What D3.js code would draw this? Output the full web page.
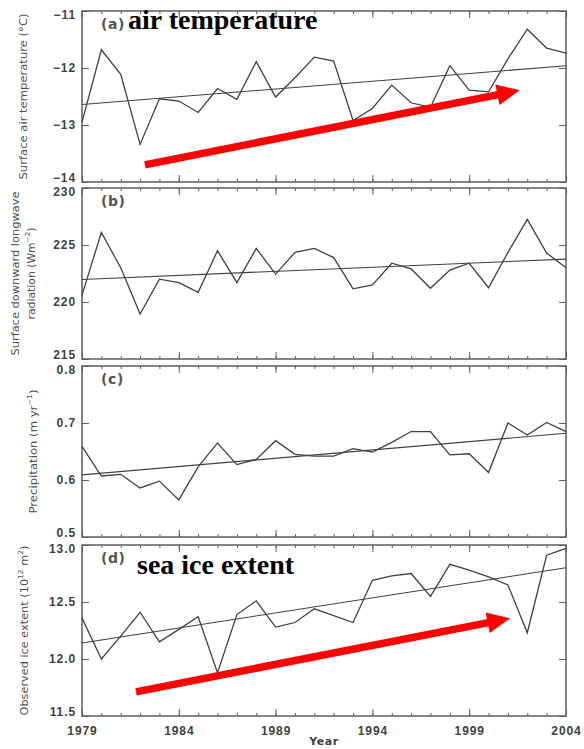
<!DOCTYPE html>
<html>
<head>
<meta charset="utf-8">
<script src="https://cdn.jsdelivr.net/npm/d3@7/dist/d3.min.js"></script>
<style>
  body { margin: 0; background: #fff; }
  svg { display: block; }
</style>
</head>
<body>
<script>
// Annual series, 1979–2004
const years = [1979, 1980, 1981, 1982, 1983, 1984, 1985, 1986, 1987, 1988, 1989, 1990, 1991,
               1992, 1993, 1994, 1995, 1996, 1997, 1998, 1999, 2000, 2001, 2002, 2003, 2004];

const airTemp = [-12.95, -11.68, -12.11, -13.34, -12.54, -12.58, -12.78, -12.36, -12.55, -11.89,
                 -12.51, -12.17, -11.81, -11.88, -12.92, -12.71, -12.30, -12.61, -12.69, -11.96,
                 -12.39, -12.42, -11.84, -11.32, -11.65, -11.74];
const longwave = [220.6, 226.1, 223.0, 218.95, 222.0, 221.7, 220.85, 224.5, 221.7, 224.7,
                  222.45, 224.35, 224.7, 223.9, 221.15, 221.5, 223.4, 222.9, 221.2, 222.8,
                  223.4, 221.25, 224.35, 227.25, 224.3, 223.0];
const precip = [0.659, 0.607, 0.610, 0.586, 0.598, 0.565, 0.623, 0.665, 0.627, 0.636,
                0.669, 0.645, 0.642, 0.642, 0.655, 0.649, 0.666, 0.685, 0.685, 0.644,
                0.646, 0.613, 0.700, 0.679, 0.701, 0.685];
const iceExtent = [12.36, 12.00, 12.20, 12.41, 12.15, 12.26, 12.37, 11.88, 12.39, 12.51,
                   12.28, 12.32, 12.44, 12.38, 12.32, 12.69, 12.73, 12.75, 12.55, 12.83,
                   12.78, 12.72, 12.65, 12.23, 12.91, 12.97];

// Linear trend values at 1979 and 2004
const airTempTrend = [-12.64, -11.96];
const longwaveTrend = [221.98, 223.76];
const precipTrend = [0.609, 0.682];
const iceExtentTrend = [12.14, 12.80];

// Axis ticks
const airTempTicks = [-14, -13, -12, -11];
const longwaveTicks = [215, 220, 225, 230];
const precipTicks = [0.5, 0.6, 0.7, 0.8];
const iceExtentTicks = [11.5, 12.0, 12.5, 13.0];
const yearTickLabels = [1979, 1984, 1989, 1994, 1999, 2004];

// Highlight arrows, [year, value] from tail to tip
const airTempArrow = [[1982.25, -13.70], [2001.62, -12.39]];
const iceExtentArrow = [[1981.79, 11.712], [2001.12, 12.357]];

const W = 584, H = 749;
const left = 82, right = 566, panelH = 171;
const panelTops = [11, 188, 366, 545];

const svg = d3.select("body").append("svg").attr("width", W).attr("height", H)
  .style("font-family", "'DejaVu Sans', sans-serif");

const x = d3.scaleLinear().domain([1979, 2004]).range([left, right]);

const panels = [
  { key: "a", label: "(a)", values: airTemp, trend: airTempTrend, ticks: airTempTicks,
    fmt: d => d.toString().replace("-", "\u2212"),
    title: [{ parts: [["Surface air temperature (\u00B0C)"]], x: 24, len: 166 }],
    note: "air temperature", noteX: 128, noteY: 29, arrow: airTempArrow },
  { key: "b", label: "(b)", values: longwave, trend: longwaveTrend, ticks: longwaveTicks,
    fmt: d3.format("d"),
    title: [{ parts: [["Surface downward longwave"]], x: 16, len: 164 },
            { parts: [["radiation (Wm"], ["\u22122", "sup"], [")"]], x: 32, len: 92 }] },
  { key: "c", label: "(c)", values: precip, trend: precipTrend, ticks: precipTicks,
    fmt: d3.format(".1f"),
    title: [{ parts: [["Precipitation (m yr"], ["\u22121", "sup"], [")"]], x: 34, len: 124 }] },
  { key: "d", label: "(d)", values: iceExtent, trend: iceExtentTrend, ticks: iceExtentTicks,
    fmt: d3.format(".1f"),
    title: [{ parts: [["Observed ice extent (10"], ["12", "sup"], [" m"], ["2", "sup"], [")"]], x: 25, len: 170 }],
    note: "sea ice extent", noteX: 137, noteY: 574, arrow: iceExtentArrow }
];

const frameColor = "#5e5e5e";
const inkColor = "#404040";
const textColor = "#3f3f3f";

panels.forEach((p, i) => {
  const top = panelTops[i], bottom = top + panelH;
  const ext = d3.extent(p.ticks);
  const y = d3.scaleLinear().domain(ext).range([bottom, top]);
  const g = svg.append("g");

  // minor (every year) and major ticks, top and bottom, pointing inward
  const styleAxis = sel => {
    sel.select(".domain").remove();
    sel.selectAll(".tick line").attr("stroke", frameColor).attr("stroke-width", 1);
  };
  g.append("g").attr("transform", `translate(0,${bottom})`)
    .call(d3.axisBottom(x).tickValues(years).tickSize(-3).tickFormat(""))
    .call(styleAxis);
  g.append("g").attr("transform", `translate(0,${top})`)
    .call(d3.axisTop(x).tickValues(years).tickSize(-3).tickFormat(""))
    .call(styleAxis);
  const xb = g.append("g").attr("transform", `translate(0,${bottom})`)
    .call(d3.axisBottom(x).tickValues(yearTickLabels).tickSize(-7).tickPadding(10)
      .tickFormat(i === panels.length - 1 ? d3.format("d") : ""))
    .call(styleAxis);
  g.append("g").attr("transform", `translate(0,${top})`)
    .call(d3.axisTop(x).tickValues(yearTickLabels).tickSize(-7).tickFormat(""))
    .call(styleAxis);

  // y axes, left with labels and right mirrored
  const yl = g.append("g").attr("transform", `translate(${left},0)`)
    .call(d3.axisLeft(y).tickValues(p.ticks).tickSize(-7).tickPadding(6).tickFormat(p.fmt))
    .call(styleAxis);
  g.append("g").attr("transform", `translate(${right},0)`)
    .call(d3.axisRight(y).tickValues(p.ticks).tickSize(-7).tickFormat(""))
    .call(styleAxis);

  [xb, yl].forEach(a => a.selectAll(".tick text")
    .attr("fill", textColor).style("font-size", "12px").style("font-weight", "bold")
    .style("letter-spacing", "0.9px"));

  // keep the end labels of neighbouring panels apart
  const n = p.ticks.length;
  yl.selectAll(".tick text").attr("y", (d, j) => (j === 0 ? -4 : j === n - 1 ? 4 : 0));

  // frame
  g.append("rect").attr("x", left).attr("y", top)
    .attr("width", right - left).attr("height", panelH)
    .attr("fill", "none").attr("stroke", frameColor).attr("stroke-width", 1.5);

  // trend line
  g.append("line")
    .attr("x1", x(years[0])).attr("y1", y(p.trend[0]))
    .attr("x2", x(years[years.length - 1])).attr("y2", y(p.trend[1]))
    .attr("stroke", inkColor).attr("stroke-width", 1.1);

  // yearly series
  const line = d3.line().x((d, j) => x(years[j])).y(d => y(d));
  g.append("path").datum(p.values).attr("d", line)
    .attr("fill", "none").attr("stroke", inkColor).attr("stroke-width", 1.3)
    .attr("stroke-linejoin", "miter");

  // panel letter
  g.append("text").attr("x", 101).attr("y", top + 18).text(p.label)
    .attr("fill", "#555").style("font-size", "14px").style("font-weight", "bold")
    .style("letter-spacing", "0.6px");

  // y-axis title(s), rotated
  const cy = top + panelH / 2;
  p.title.forEach(t => {
    const tx = g.append("text")
      .attr("transform", `translate(${t.x},${cy}) rotate(-90)`)
      .attr("text-anchor", "middle").attr("dominant-baseline", "middle")
      .attr("fill", "#505050").style("font-size", "10.5px")
      .attr("textLength", t.len).attr("lengthAdjust", "spacingAndGlyphs");
    t.parts.forEach(([s, kind]) => {
      const ts = tx.append("tspan").text(s);
      if (kind === "sup") ts.attr("baseline-shift", "super").style("font-size", "7px");
    });
  });

  // bold annotation and red arrow
  if (p.note) {
    g.append("text").attr("x", p.noteX).attr("y", p.noteY).text(p.note)
      .attr("fill", "#000").style("font-family", "'Liberation Serif', 'Times New Roman', serif")
      .style("font-weight", "bold").style("font-size", "28px");
  }
  if (p.arrow) {
    const [t0, t1] = p.arrow;
    const x0 = x(t0[0]), y0 = y(t0[1]), x1 = x(t1[0]), y1 = y(t1[1]);
    const dx = x1 - x0, dy = y1 - y0, L = Math.hypot(dx, dy);
    const ux = dx / L, uy = dy / L, nx = -uy, ny = ux;
    const headLen = 23, headHalf = 10.5;
    const bx = x1 - ux * headLen, by = y1 - uy * headLen;
    g.append("line").attr("x1", x0).attr("y1", y0)
      .attr("x2", bx + ux * 2).attr("y2", by + uy * 2)
      .attr("stroke", "#ff0000").attr("stroke-width", 7.5);
    g.append("path")
      .attr("d", `M${x1},${y1}L${bx + nx * headHalf},${by + ny * headHalf}L${bx - nx * headHalf},${by - ny * headHalf}Z`)
      .attr("fill", "#ff0000");
  }
});

// x-axis title
svg.append("text").attr("x", (left + right) / 2).attr("y", 745)
  .attr("text-anchor", "middle").text("Year")
  .attr("fill", textColor).style("font-size", "11px").style("font-weight", "bold")
  .style("letter-spacing", "0.6px");
</script>
</body>
</html>
